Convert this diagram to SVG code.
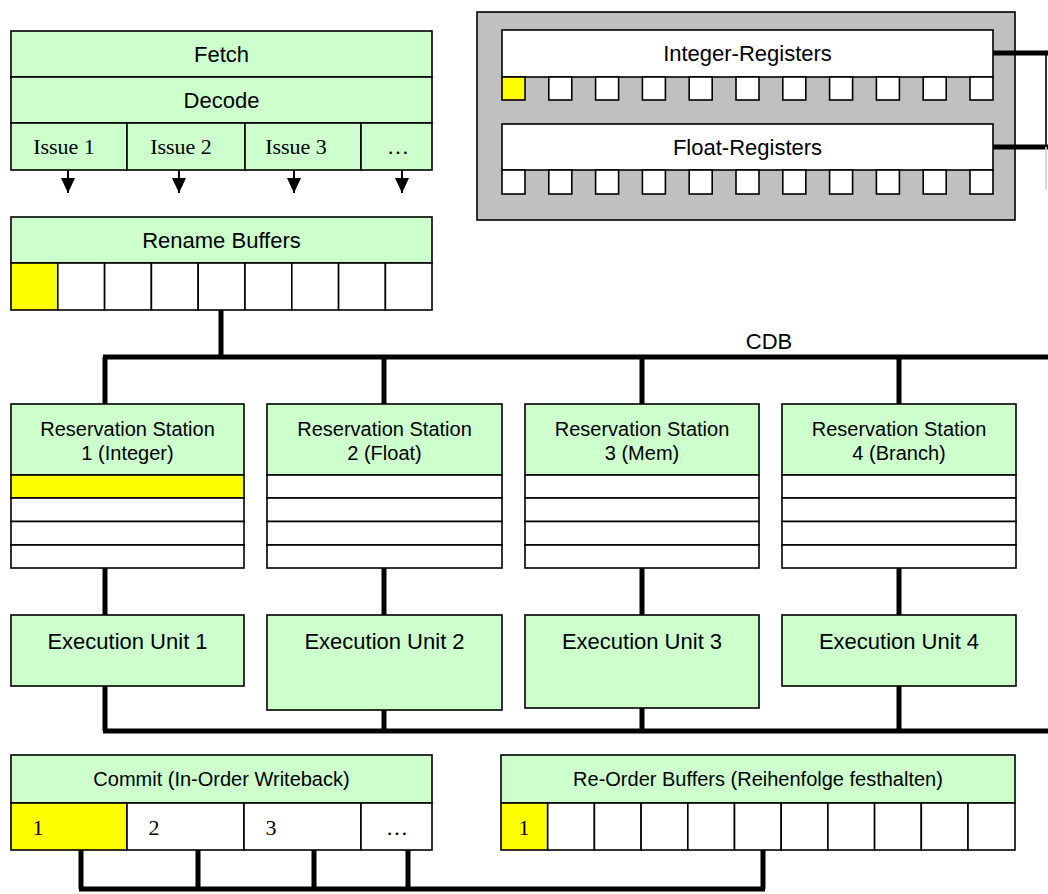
<svg xmlns="http://www.w3.org/2000/svg" width="1048" height="894" viewBox="0 0 1048 894">
<style>
.g{fill:#ccffcc;stroke:#000;stroke-width:1.6}
.w{fill:#ffffff;stroke:#000;stroke-width:1.6}
.y{fill:#ffff00;stroke:#000;stroke-width:1.6}
.gr{fill:#c0c0c0;stroke:#000;stroke-width:1.6}
.t{font-family:"Liberation Sans",Arial,sans-serif;font-size:22px;fill:#000;text-anchor:middle}
.ts{font-family:"Liberation Sans",Arial,sans-serif;font-size:20px;fill:#000;text-anchor:middle}
.tr{font-family:"Liberation Serif","Times New Roman",serif;font-size:22px;fill:#000;text-anchor:middle}
.c{stroke:#000;stroke-width:5;fill:none}
.thin{stroke:#000;stroke-width:2;fill:none}
</style>
<defs>
<marker id="ah" markerWidth="16" markerHeight="16" refX="15" refY="8" orient="auto" markerUnits="userSpaceOnUse" viewBox="0 0 16 16">
<path d="M0,1 L15,8 L0,15 Z" fill="#000"/>
</marker>
</defs>
<rect x="0" y="0" width="1048" height="894" fill="#fff"/>

<g id="frontend">
<rect class="g" x="11" y="31" width="421" height="46"/>
<text class="t" x="221.5" y="62">Fetch</text>
<rect class="g" x="11" y="77" width="421" height="46"/>
<text class="t" x="221.5" y="108">Decode</text>
<rect class="g" x="11" y="123" width="116" height="47"/>
<rect class="g" x="127" y="123" width="118" height="47"/>
<rect class="g" x="245" y="123" width="116" height="47"/>
<rect class="g" x="361" y="123" width="71" height="47"/>
<text class="tr" x="64" y="154">Issue 1</text>
<text class="tr" x="181" y="154">Issue 2</text>
<text class="tr" x="296" y="154">Issue 3</text>
<text class="tr" x="398" y="154">…</text>
</g>

<g id="registers">
<rect class="gr" x="477" y="12" width="538" height="208"/>
<rect class="w" x="502" y="30" width="491" height="47"/>
<text class="t" x="747.5" y="61">Integer-Registers</text>
<rect class="y" x="502" y="77" width="23" height="23"/>
<rect class="w" x="548.8" y="77" width="23" height="23"/>
<rect class="w" x="595.6" y="77" width="23" height="23"/>
<rect class="w" x="642.4" y="77" width="23" height="23"/>
<rect class="w" x="689.2" y="77" width="23" height="23"/>
<rect class="w" x="736" y="77" width="23" height="23"/>
<rect class="w" x="782.8" y="77" width="23" height="23"/>
<rect class="w" x="829.6" y="77" width="23" height="23"/>
<rect class="w" x="876.4" y="77" width="23" height="23"/>
<rect class="w" x="923.2" y="77" width="23" height="23"/>
<rect class="w" x="970" y="77" width="23" height="23"/>
<rect class="w" x="502" y="124" width="491" height="46"/>
<text class="t" x="747.5" y="155">Float-Registers</text>
<rect class="w" x="502" y="170" width="23" height="24"/>
<rect class="w" x="548.8" y="170" width="23" height="24"/>
<rect class="w" x="595.6" y="170" width="23" height="24"/>
<rect class="w" x="642.4" y="170" width="23" height="24"/>
<rect class="w" x="689.2" y="170" width="23" height="24"/>
<rect class="w" x="736" y="170" width="23" height="24"/>
<rect class="w" x="782.8" y="170" width="23" height="24"/>
<rect class="w" x="829.6" y="170" width="23" height="24"/>
<rect class="w" x="876.4" y="170" width="23" height="24"/>
<rect class="w" x="923.2" y="170" width="23" height="24"/>
<rect class="w" x="970" y="170" width="23" height="24"/>
</g>

<g id="rename">
<rect class="g" x="11" y="217" width="421" height="46"/>
<text class="t" x="221.5" y="248">Rename Buffers</text>
<rect class="y" x="11" y="263" width="46.8" height="47"/>
<rect class="w" x="57.8" y="263" width="46.8" height="47"/>
<rect class="w" x="104.6" y="263" width="46.8" height="47"/>
<rect class="w" x="151.4" y="263" width="46.8" height="47"/>
<rect class="w" x="198.2" y="263" width="46.8" height="47"/>
<rect class="w" x="245" y="263" width="46.8" height="47"/>
<rect class="w" x="291.8" y="263" width="46.8" height="47"/>
<rect class="w" x="338.6" y="263" width="46.8" height="47"/>
<rect class="w" x="385.4" y="263" width="46.6" height="47"/>
</g>

<g id="rs1">
<rect class="g" x="11" y="404" width="233" height="71"/>
<text class="ts" x="127.5" y="436">Reservation Station</text>
<text class="ts" x="127.5" y="460">1 (Integer)</text>
<rect class="y" x="11" y="475" width="233" height="23"/>
<rect class="w" x="11" y="498" width="233" height="23.5"/>
<rect class="w" x="11" y="521.5" width="233" height="23.5"/>
<rect class="w" x="11" y="545" width="233" height="23"/>
</g>
<g id="rs2">
<rect class="g" x="267" y="404" width="235" height="71"/>
<text class="ts" x="384.5" y="436">Reservation Station</text>
<text class="ts" x="384.5" y="460">2 (Float)</text>
<rect class="w" x="267" y="475" width="235" height="23"/>
<rect class="w" x="267" y="498" width="235" height="23.5"/>
<rect class="w" x="267" y="521.5" width="235" height="23.5"/>
<rect class="w" x="267" y="545" width="235" height="23"/>
</g>
<g id="rs3">
<rect class="g" x="525" y="404" width="234" height="71"/>
<text class="ts" x="642" y="436">Reservation Station</text>
<text class="ts" x="642" y="460">3 (Mem)</text>
<rect class="w" x="525" y="475" width="234" height="23"/>
<rect class="w" x="525" y="498" width="234" height="23.5"/>
<rect class="w" x="525" y="521.5" width="234" height="23.5"/>
<rect class="w" x="525" y="545" width="234" height="23"/>
</g>
<g id="rs4">
<rect class="g" x="782" y="404" width="234" height="71"/>
<text class="ts" x="899" y="436">Reservation Station</text>
<text class="ts" x="899" y="460">4 (Branch)</text>
<rect class="w" x="782" y="475" width="234" height="23"/>
<rect class="w" x="782" y="498" width="234" height="23.5"/>
<rect class="w" x="782" y="521.5" width="234" height="23.5"/>
<rect class="w" x="782" y="545" width="234" height="23"/>
</g>

<g id="eu1">
<rect class="g" x="11" y="615" width="233" height="71"/>
<text class="t" x="127.5" y="649">Execution Unit 1</text>
</g>
<g id="eu2">
<rect class="g" x="267" y="615" width="235" height="95"/>
<text class="t" x="384.5" y="649">Execution Unit 2</text>
</g>
<g id="eu3">
<rect class="g" x="525" y="615" width="234" height="93"/>
<text class="t" x="642" y="649">Execution Unit 3</text>
</g>
<g id="eu4">
<rect class="g" x="782" y="615" width="234" height="71"/>
<text class="t" x="899" y="649">Execution Unit 4</text>
</g>

<g id="commit">
<rect class="g" x="11" y="755" width="421" height="48"/>
<text class="ts" x="221.5" y="786">Commit (In-Order Writeback)</text>
<rect class="y" x="11" y="803" width="116" height="47"/>
<rect class="w" x="127" y="803" width="117" height="47"/>
<rect class="w" x="244" y="803" width="117" height="47"/>
<rect class="w" x="361" y="803" width="71" height="47"/>
<text class="tr" x="38" y="835">1</text>
<text class="tr" x="154" y="835">2</text>
<text class="tr" x="271" y="835">3</text>
<text class="tr" x="397" y="835">…</text>
</g>

<g id="rob">
<rect class="g" x="501" y="755" width="514" height="48"/>
<text class="ts" x="758" y="786">Re-Order Buffers (Reihenfolge festhalten)</text>
<rect class="y" x="501" y="803" width="46.7" height="47"/>
<rect class="w" x="547.7" y="803" width="46.7" height="47"/>
<rect class="w" x="594.4" y="803" width="46.7" height="47"/>
<rect class="w" x="641.1" y="803" width="46.7" height="47"/>
<rect class="w" x="687.8" y="803" width="46.7" height="47"/>
<rect class="w" x="734.5" y="803" width="46.7" height="47"/>
<rect class="w" x="781.2" y="803" width="46.7" height="47"/>
<rect class="w" x="827.9" y="803" width="46.7" height="47"/>
<rect class="w" x="874.6" y="803" width="46.7" height="47"/>
<rect class="w" x="921.3" y="803" width="46.7" height="47"/>
<rect class="w" x="968" y="803" width="47" height="47"/>
<text class="tr" x="524" y="835">1</text>
</g>

<g id="connectors">
<line class="thin" x1="68" y1="170" x2="68" y2="193" marker-end="url(#ah)"/>
<line class="thin" x1="179" y1="170" x2="179" y2="193" marker-end="url(#ah)"/>
<line class="thin" x1="294" y1="170" x2="294" y2="193" marker-end="url(#ah)"/>
<line class="thin" x1="402" y1="170" x2="402" y2="193" marker-end="url(#ah)"/>

<line class="c" x1="993" y1="53" x2="1048" y2="53"/>
<line class="c" x1="993" y1="147" x2="1048" y2="147"/>
<line x1="1046" y1="53" x2="1046" y2="147" stroke="#000" stroke-width="1.6"/>
<line x1="1046" y1="147" x2="1046" y2="190" stroke="#d0d0d0" stroke-width="1.6"/>

<line class="c" x1="221" y1="310" x2="221" y2="357"/>
<text class="t" x="769" y="349">CDB</text>
<line class="c" x1="103" y1="357" x2="1048" y2="357"/>
<line class="c" x1="105" y1="357" x2="105" y2="404"/>
<line class="c" x1="384" y1="357" x2="384" y2="404"/>
<line class="c" x1="642" y1="357" x2="642" y2="404"/>
<line class="c" x1="899" y1="357" x2="899" y2="404"/>

<line class="c" x1="105" y1="568" x2="105" y2="615"/>
<line class="c" x1="384" y1="568" x2="384" y2="615"/>
<line class="c" x1="642" y1="568" x2="642" y2="615"/>
<line class="c" x1="899" y1="568" x2="899" y2="615"/>

<line class="c" x1="105" y1="686" x2="105" y2="731"/>
<line class="c" x1="384" y1="710" x2="384" y2="731"/>
<line class="c" x1="642" y1="708" x2="642" y2="731"/>
<line class="c" x1="899" y1="686" x2="899" y2="731"/>
<line class="c" x1="103" y1="731" x2="1048" y2="731"/>

<line class="c" x1="81" y1="850" x2="81" y2="889"/>
<line class="c" x1="198" y1="850" x2="198" y2="889"/>
<line class="c" x1="314" y1="850" x2="314" y2="889"/>
<line class="c" x1="408" y1="850" x2="408" y2="889"/>
<line class="c" x1="763" y1="850" x2="763" y2="889"/>
<line class="c" x1="79" y1="889" x2="765" y2="889"/>
</g>
</svg>
